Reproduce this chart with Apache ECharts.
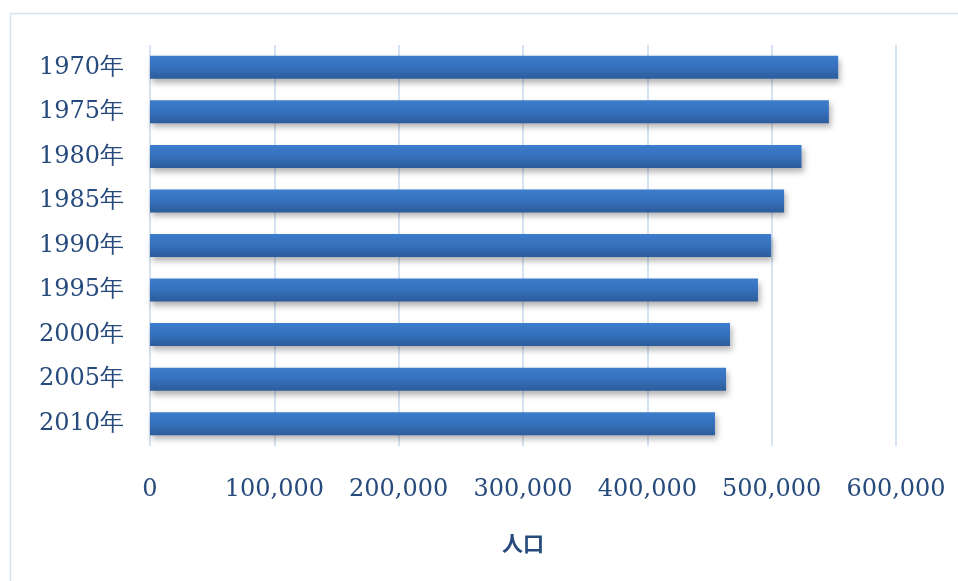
<!DOCTYPE html>
<html>
<head>
<meta charset="utf-8">
<script src="https://cdn.jsdelivr.net/npm/echarts@6/dist/echarts.min.js"></script>
<style>html,body{margin:0;padding:0;background:#fff;}#c{width:958px;height:581px;}</style>
</head>
<body>
<div id="c"></div>
<script>
var categories = ['1970年','1975年','1980年','1985年','1990年','1995年','2000年','2005年','2010年'];
var population = [553500, 546000, 524000, 510000, 499500, 489000, 466500, 463300, 454400];
var xTicks = [0, 100000, 200000, 300000, 400000, 500000, 600000];

var textColor = '#264a7c';
var chart = echarts.init(document.getElementById('c'));
chart.setOption({
  animation: false,
  backgroundColor: '#ffffff',
  graphic: [{
    type: 'rect',
    shape: { x: 10.5, y: 13.5, width: 1000, height: 700 },
    style: { fill: 'none', stroke: '#d4e3f4', lineWidth: 1.5 },
    silent: true
  }],
  grid: { left: 150, right: 62, top: 45, bottom: 135, containLabel: false },
  xAxis: {
    type: 'value',
    min: xTicks[0],
    max: xTicks[xTicks.length - 1],
    interval: xTicks[1] - xTicks[0],
    name: '人口',
    nameLocation: 'middle',
    nameGap: 87,
    nameTextStyle: { color: textColor, fontFamily: 'Noto Sans CJK JP', fontWeight: 'bold', fontSize: 21 },
    axisLine: { show: false },
    axisTick: { show: false },
    axisLabel: {
      color: textColor,
      fontFamily: 'DejaVu Serif',
      fontSize: 24,
      margin: 32,
      formatter: function (v) { return v.toLocaleString('en-US'); }
    },
    splitLine: { show: true, lineStyle: { color: '#d6e3f3', width: 2 } }
  },
  yAxis: {
    type: 'category',
    data: categories,
    inverse: true,
    axisLine: { show: false },
    axisTick: { show: false },
    axisLabel: {
      color: textColor,
      fontFamily: 'DejaVu Serif',
      fontSize: 24,
      margin: 26
    }
  },
  series: [{
    type: 'bar',
    data: population,
    barWidth: 23,
    itemStyle: {
      color: new echarts.graphic.LinearGradient(0, 0, 0, 1, [
        { offset: 0, color: '#3c7dcd' },
        { offset: 0.5, color: '#3670bb' },
        { offset: 1, color: '#2c5c9c' }
      ]),
      shadowColor: 'rgba(0,0,0,0.3)',
      shadowBlur: 6,
      shadowOffsetX: 2,
      shadowOffsetY: 4
    }
  }]
});
</script>
</body>
</html>
